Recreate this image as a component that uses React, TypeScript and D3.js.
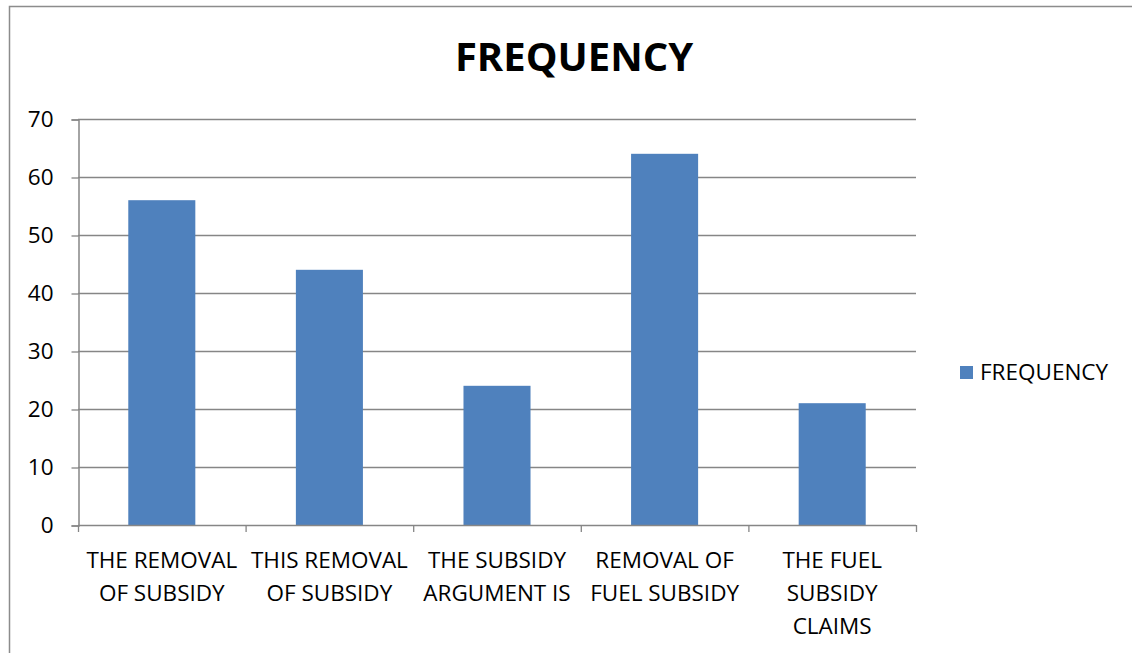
import React, { useEffect, useRef } from 'react';
import * as d3 from 'd3';

const categories = [
  ['THE REMOVAL', 'OF SUBSIDY'],
  ['THIS REMOVAL', 'OF SUBSIDY'],
  ['THE SUBSIDY', 'ARGUMENT IS'],
  ['REMOVAL OF', 'FUEL SUBSIDY'],
  ['THE FUEL', 'SUBSIDY', 'CLAIMS'],
];
const frequency = [56, 44, 24, 64, 21];
const yTicks = [0, 10, 20, 30, 40, 50, 60, 70];
const seriesName = 'FREQUENCY';

export default function App() {
  const svgRef = useRef<SVGSVGElement>(null);

  useEffect(() => {
    if (!svgRef.current) return;
    const svg = d3.select(svgRef.current);
    svg.selectAll('*').remove();

    const width = 1132;
    const height = 653;
    const font = "'Open Sans', 'Liberation Sans', sans-serif";
    const left = 78, right = 916, top = 119, bottom = 525;
    const fs = 22.5;

    svg.append('rect')
      .attr('x', 9.5).attr('y', 6.5)
      .attr('width', width).attr('height', height)
      .attr('fill', 'white').attr('stroke', '#8c8c8c').attr('stroke-width', 1.5);

    // Title
    svg.append('text')
      .attr('x', 574).attr('y', 71)
      .attr('text-anchor', 'middle')
      .attr('font-family', font).attr('font-size', 40).attr('font-weight', 'bold')
      .attr('fill', '#000')
      .text(seriesName);

    const idx = categories.map((_, i) => String(i));
    const x = d3.scaleBand().domain(idx).range([left, right]).paddingInner(0.6).paddingOuter(0.3);
    const y = d3.scaleLinear().domain([0, 70]).range([bottom, top]);

    // Gridlines
    svg.append('g').selectAll('line')
      .data(yTicks.filter(t => t > 0))
      .enter().append('line')
      .attr('x1', left).attr('x2', right)
      .attr('y1', d => y(d) + 0.5).attr('y2', d => y(d) + 0.5)
      .attr('stroke', '#868686').attr('stroke-width', 1.3);

    // Y axis
    const yAxis = svg.append('g').attr('transform', `translate(${left + 0.5},0.5)`)
      .call(d3.axisLeft(y).tickValues(yTicks).tickSize(7).tickPadding(18).tickFormat(d3.format('d')));
    yAxis.select('.domain').attr('stroke', '#868686').attr('stroke-width', 1.5);
    yAxis.selectAll('.tick line').attr('stroke', '#868686').attr('stroke-width', 1.3);
    yAxis.selectAll('.tick text')
      .attr('font-family', font).attr('font-size', fs).attr('fill', '#000');

    // Bars
    svg.append('g').selectAll('rect')
      .data(frequency)
      .enter().append('rect')
      .attr('x', (d, i) => x(String(i))!)
      .attr('width', x.bandwidth())
      .attr('y', d => y(d))
      .attr('height', d => y(0) - y(d))
      .attr('fill', '#4f81bd');

    // X axis
    const step = (right - left) / categories.length;
    const xg = svg.append('g');
    xg.append('line')
      .attr('x1', left).attr('x2', right)
      .attr('y1', bottom + 0.5).attr('y2', bottom + 0.5)
      .attr('stroke', '#868686').attr('stroke-width', 1.5);
    xg.selectAll('line.tick')
      .data(d3.range(categories.length + 1))
      .enter().append('line')
      .attr('class', 'tick')
      .attr('x1', i => left + i * step + 0.5).attr('x2', i => left + i * step + 0.5)
      .attr('y1', bottom).attr('y2', bottom + 7)
      .attr('stroke', '#868686').attr('stroke-width', 1.3);

    const labels = xg.selectAll('text.cat')
      .data(categories)
      .enter().append('text')
      .attr('class', 'cat')
      .attr('text-anchor', 'middle')
      .attr('font-family', font).attr('font-size', fs).attr('fill', '#000');
    labels.each(function (lines, i) {
      const t = d3.select(this);
      const cx = left + (i + 0.5) * step;
      lines.forEach((ln, j) => {
        t.append('tspan').attr('x', cx).attr('y', 568 + j * 33).text(ln);
      });
    });

    // Legend
    const lg = svg.append('g');
    lg.append('rect')
      .attr('x', 960).attr('y', 366).attr('width', 13).attr('height', 13)
      .attr('fill', '#4f81bd');
    lg.append('text')
      .attr('x', 980).attr('y', 380)
      .attr('font-family', font).attr('font-size', fs).attr('fill', '#000')
      .text(seriesName);
  }, []);

  return (
    <svg ref={svgRef} width={1132} height={653}
      style={{ position: 'absolute', left: 0, top: 0, background: 'white' }} />
  );
}
